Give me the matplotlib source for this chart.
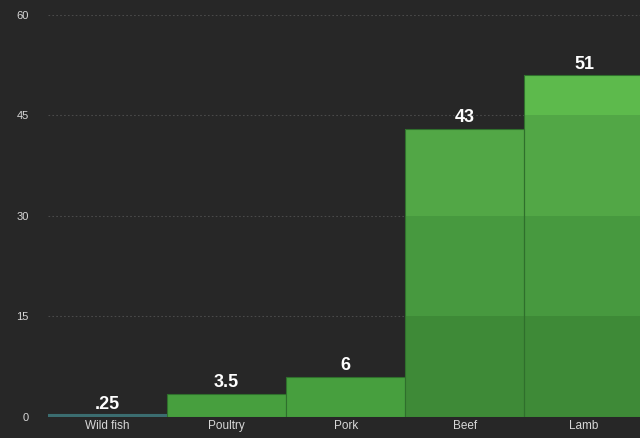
import matplotlib
matplotlib.use("Agg")
import matplotlib.pyplot as plt

# Emissions by protein source
categories = ["Wild fish", "Poultry", "Pork", "Beef", "Lamb"]
values = [0.25, 3.5, 6, 43, 51]
value_labels = [".25", "3.5", "6", "43", "51"]
y_ticks = [0, 15, 30, 45, 60]

bg = "#272727"
# fill colour for each 15-unit band (bottom to top)
band_colors = ["#3e8a37", "#47993f", "#52a746", "#5dba4c"]
small_color = "#479f3e"
fish_color = "#3b6d70"

fig = plt.figure(figsize=(6.4, 4.38), dpi=100, facecolor=bg)
ax = fig.add_axes([0.075, 0.048, 0.925, 0.918])
ax.set_facecolor(bg)

x = list(range(len(categories)))
for i, v in enumerate(values):
    if i == 0:
        ax.bar(i, v, width=1.0, color=fish_color, edgecolor=fish_color,
               linewidth=1.5, zorder=3)
    elif v < y_ticks[1]:
        ax.bar(i, v, width=1.0, color=small_color, edgecolor="#2f6f2c",
               linewidth=0.8, zorder=3)
    else:
        for b in range(len(y_ticks) - 1):
            lo, hi = y_ticks[b], min(y_ticks[b + 1], v)
            if hi <= lo:
                break
            ax.bar(i, hi - lo, bottom=lo, width=1.0, color=band_colors[b],
                   linewidth=0, zorder=3)
        ax.bar(i, v, width=1.0, fill=False, edgecolor="#2f6f2c",
               linewidth=0.8, zorder=4)
    ax.text(i, v + 0.4, value_labels[i], ha="center", va="bottom",
            color="white", fontsize=13, fontweight="bold",
            family="Liberation Sans", zorder=5)

ax.set_xlim(-0.5, len(categories) - 0.53)
ax.set_ylim(0, 60)
ax.set_yticks(y_ticks)
ax.set_yticklabels([str(t) for t in y_ticks], color="#d8d8d8", fontsize=8,
                   family="Liberation Sans")
ax.set_xticks(x)
ax.set_xticklabels(categories, color="#d8d8d8", fontsize=8.5,
                   family="Liberation Sans")
ax.tick_params(axis="both", length=0)
ax.tick_params(axis="y", pad=14)
ax.tick_params(axis="x", pad=2)
for s in ax.spines.values():
    s.set_visible(False)
ax.grid(axis="y", color="#4a4a4a", linestyle=(0, (1.5, 2)), linewidth=0.8,
        zorder=1)
ax.set_axisbelow(True)

fig.savefig("out.png", dpi=100, facecolor=bg)
